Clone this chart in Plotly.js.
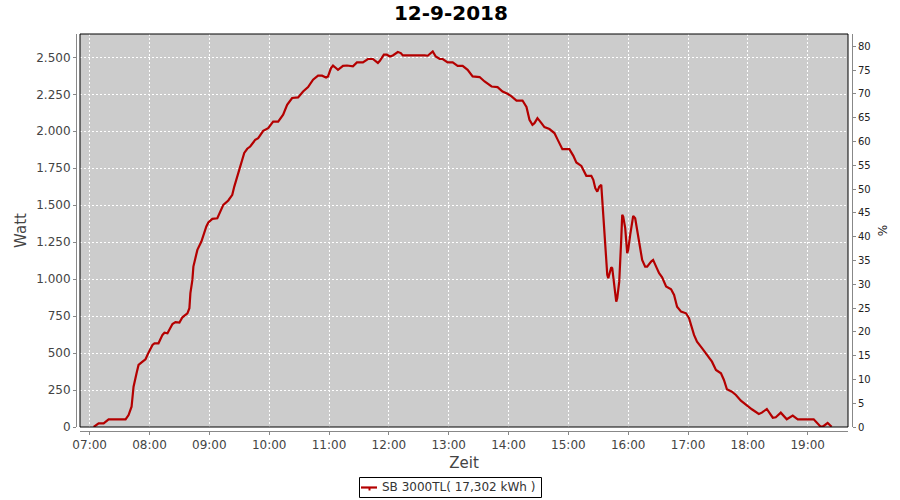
<!DOCTYPE html>
<html>
<head>
<meta charset="utf-8">
<script src="https://cdn.plot.ly/plotly-3.0.1.min.js"></script>
<style>
  html, body { margin: 0; padding: 0; background: #ffffff; }
  #chart { width: 900px; height: 500px; }
</style>
</head>
<body>
<div id="chart"></div>
<script>
// ---- data ----
const day = "2018-09-12";
const chartTitle = "12-9-2018";
const seriesName = "SB 3000TL( 17,302 kWh )";
const times = [
  "07:04","07:09","07:14","07:19","07:36","07:39","07:42","07:44","07:47","07:49",
  "07:53","07:56","07:59","08:03","08:05","08:09","08:13","08:15","08:18","08:23",
  "08:26","08:30","08:33","08:38","08:40","08:41","08:43","08:44","08:46","08:48",
  "08:52","08:54","08:57","08:59","09:03","09:08","09:11","09:14","09:19","09:23",
  "09:25","09:27","09:31","09:35","09:38","09:41","09:46","09:49","09:54","09:59",
  "10:04","10:09","10:14","10:18","10:23","10:29","10:34","10:39","10:44","10:49",
  "10:53","10:57","10:59","11:02","11:04","11:09","11:14","11:18","11:24","11:28",
  "11:34","11:39","11:44","11:49","11:51","11:55","11:58","12:01","12:04","12:09",
  "12:12","12:14","12:36","12:39","12:44","12:47","12:51","12:54","12:59","13:04",
  "13:09","13:14","13:19","13:24","13:31","13:36","13:43","13:49","13:54","13:59",
  "14:03","14:08","14:14","14:18","14:21","14:24","14:26","14:29","14:33","14:36",
  "14:41","14:46","14:49","14:54","15:01","15:05","15:08","15:13","15:18","15:23",
  "15:25","15:27","15:29","15:31","15:33","15:34","15:36","15:38","15:39","15:40",
  "15:43","15:44","15:46","15:48","15:49","15:51","15:53","15:54","15:55","15:57",
  "15:59","16:00","16:02","16:04","16:05","16:07","16:09","16:12","16:14","16:17",
  "16:19","16:23","16:25","16:28","16:31","16:34","16:38","16:43","16:46","16:49",
  "16:53","16:58","17:01","17:06","17:09","17:14","17:19","17:24","17:28","17:33",
  "17:36","17:39","17:44","17:48","17:53","17:58","18:04","18:11","18:14","18:19",
  "18:25","18:28","18:33","18:39","18:45","18:50","19:06","19:13","19:16","19:20",
  "19:24"
];
const watt = [
  0,25,25,52,52,81,137,273,363,420,
  442,458,503,555,566,566,623,638,634,697,
  709,706,742,769,803,905,995,1085,1142,1198,
  1254,1299,1356,1383,1408,1412,1457,1502,1532,1570,
  1626,1672,1773,1854,1882,1897,1942,1954,2003,2021,
  2066,2066,2112,2179,2225,2229,2269,2299,2349,2376,
  2376,2364,2371,2428,2445,2416,2443,2445,2439,2466,
  2466,2489,2489,2462,2477,2518,2518,2506,2513,2536,
  2529,2513,2513,2511,2540,2506,2489,2489,2466,2466,
  2443,2443,2416,2371,2367,2337,2303,2299,2269,2254,
  2236,2208,2208,2164,2078,2044,2055,2089,2055,2028,
  2015,1988,1947,1879,1879,1834,1789,1766,1699,1699,
  1672,1615,1592,1626,1638,1536,1333,1176,1029,1006,
  1081,1074,973,848,871,983,1266,1435,1423,1345,
  1176,1198,1299,1401,1428,1412,1333,1220,1130,1085,
  1085,1119,1130,1085,1040,1013,950,932,893,814,
  780,769,736,623,577,533,487,442,386,363,
  318,255,239,217,178,149,120,88,97,122,
  63,66,97,52,77,52,52,2,7,27,
  2
];
const xRange = ["06:50:18", "19:40:24"];
const yRangeWatt = [0, 2658];
const yRangePct = [0, 82.6];

// ---- chart ----
const xs = times.map(t => day + " " + t);
const tickGray = "#888888";
const textGray = "#444444";
const lineColor = "#b40000";
const font = "DejaVu Sans, Verdana, sans-serif";

// paper-coordinate helpers (paper spans px 76..852 horizontally, 34..431 vertically)
const px = v => (v - 76) / 776;
const py = v => (431 - v) / 397;

const traces = [
  {
    x: xs, y: watt, type: "scatter", mode: "lines",
    name: seriesName,
    line: { color: lineColor, width: 2.2 },
    hoverinfo: "x+y", showlegend: false
  },
  {
    x: [xs[0]], y: [null], type: "scatter", mode: "lines",
    yaxis: "y2", showlegend: false, hoverinfo: "skip"
  }
];

const layout = {
  width: 900, height: 500,
  margin: { l: 76, r: 48, t: 34, b: 69 },
  paper_bgcolor: "#ffffff",
  plot_bgcolor: "#cccccc",
  separators: ",.",
  font: { family: font, size: 12, color: textGray },
  showlegend: false,
  title: {
    text: "<b>" + chartTitle + "</b>",
    font: { family: font, size: 20, color: "#000000" },
    xref: "container", x: 0.501, xanchor: "center",
    yref: "container", y: 0.974, yanchor: "middle"
  },
  xaxis: {
    type: "date",
    domain: [4 / 776, 1 - 4 / 776],
    anchor: "free", position: 0,
    range: [day + " " + xRange[0], day + " " + xRange[1]],
    tick0: day + " 07:00", dtick: 3600000,
    tickformat: "%H:%M",
    showline: true, linecolor: tickGray, linewidth: 1,
    ticks: "outside", ticklen: 3, tickcolor: tickGray,
    tickfont: { family: font, size: 12, color: textGray },
    showgrid: true, gridcolor: "#ffffff", gridwidth: 1, griddash: "2px,2px",
    zeroline: false, automargin: false,
    title: { text: "Zeit", font: { family: font, size: 15, color: textGray }, standoff: 6 }
  },
  yaxis: {
    domain: [4 / 397, 1],
    anchor: "free", position: 0,
    range: yRangeWatt,
    dtick: 250, tickformat: ",d",
    showline: true, linecolor: tickGray, linewidth: 1,
    ticks: "outside", ticklen: 3, tickcolor: tickGray,
    tickfont: { family: font, size: 12, color: textGray },
    showgrid: true, gridcolor: "#ffffff", gridwidth: 1, griddash: "2px,2px",
    zeroline: false, automargin: false,
    title: { text: "Watt", font: { family: font, size: 15, color: textGray }, standoff: 4 }
  },
  yaxis2: {
    overlaying: "y", side: "right",
    anchor: "free", position: 1,
    range: yRangePct, dtick: 5,
    showline: true, linecolor: tickGray, linewidth: 1,
    ticks: "outside", ticklen: 3, tickcolor: tickGray,
    tickfont: { family: font, size: 10, color: "#222222" },
    showgrid: false, zeroline: false, automargin: false,
    title: { text: "%", font: { family: font, size: 12, color: "#222222" }, standoff: 8 }
  },
  annotations: [
    {
      text: seriesName, showarrow: false,
      xref: "paper", yref: "paper",
      x: px(380), xanchor: "left",
      y: py(487.5), yanchor: "middle",
      font: { family: font, size: 12, color: "#333333" }
    }
  ],
  shapes: [
    {
      type: "rect", xref: "x domain", yref: "y domain",
      x0: 0, x1: 1, y0: 0, y1: 1,
      line: { color: "#000000", width: 1 }, layer: "above"
    },
    // legend box
    {
      type: "rect", xref: "paper", yref: "paper",
      x0: px(359.5), x1: px(541.5), y0: py(497.5), y1: py(477.5),
      line: { color: "#000000", width: 1 }, fillcolor: "#ffffff", layer: "below"
    },
    // legend symbol
    {
      type: "line", xref: "paper", yref: "paper",
      x0: px(361), x1: px(377), y0: py(487.5), y1: py(487.5),
      line: { color: lineColor, width: 2.2 }
    },
    {
      type: "line", xref: "paper", yref: "paper",
      x0: px(369.5), x1: px(369.5), y0: py(487.5), y1: py(490.5),
      line: { color: lineColor, width: 2 }
    }
  ]
};

Plotly.newPlot("chart", traces, layout, { displayModeBar: false, staticPlot: true });
</script>
</body>
</html>
